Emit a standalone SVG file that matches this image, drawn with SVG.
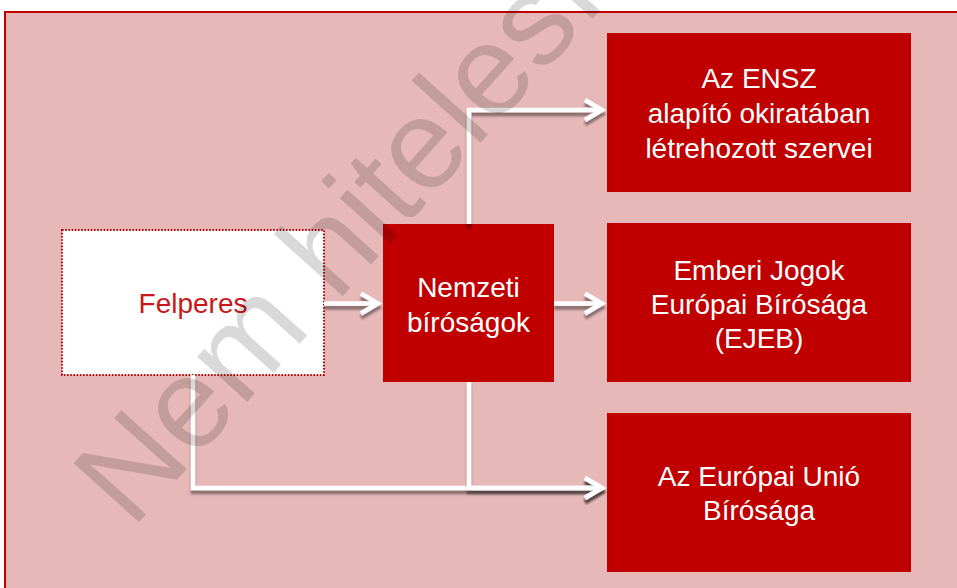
<svg xmlns="http://www.w3.org/2000/svg" width="957" height="588" viewBox="0 0 957 588">
  <defs>
    <style>
      .box { fill: #c00000; }
      .wt { font-family: "Liberation Sans", Arial, sans-serif; font-size: 28px; fill: #ffffff; text-anchor: middle; }
      .rt { font-family: "Liberation Sans", Arial, sans-serif; font-size: 28px; fill: #c81818; text-anchor: middle; }
      .con { fill: none; stroke: #ffffff; stroke-width: 4.5; marker-end: url(#arr); filter: url(#sh); }
      .wm { font-family: "Liberation Sans", Arial, sans-serif; font-size: 128px; fill: #000000; fill-opacity: 0.15; }
    </style>
    <marker id="arr" markerUnits="userSpaceOnUse" orient="auto" overflow="visible" markerWidth="1" markerHeight="1" refX="0" refY="0">
      <path d="M-17,-10 L0,0 L-17,10" fill="none" stroke="#ffffff" stroke-width="4.5"/>
    </marker>
    <filter id="sh" filterUnits="userSpaceOnUse" x="0" y="0" width="957" height="588">
      <feDropShadow dx="0" dy="4" stdDeviation="0.9" flood-color="#000000" flood-opacity="0.4"/>
    </filter>
  </defs>
  <rect x="0" y="0" width="957" height="588" fill="#ffffff"/>
  <rect id="frame" x="5" y="12" width="970" height="600" fill="#e6b8b8" stroke="#c00000" stroke-width="2"/>

  <g id="felperes">
    <rect x="62" y="230" width="262" height="145" fill="#ffffff" stroke="#c00000" stroke-width="2" stroke-dasharray="1.6 1.6"/>
    <text class="rt" x="193" y="313">Felperes</text>
  </g>
  <g id="nemzeti">
    <rect class="box" x="383" y="224" width="171" height="158"/>
    <text class="wt" x="468.5" y="297">Nemzeti</text>
    <text class="wt" x="468.5" y="332">bíróságok</text>
  </g>
  <g id="ensz">
    <rect class="box" x="607" y="33" width="304" height="159"/>
    <text class="wt" x="759" y="88">Az ENSZ</text>
    <text class="wt" x="759" y="123">alapító okiratában</text>
    <text class="wt" x="759" y="158">létrehozott szervei</text>
  </g>
  <g id="ejeb">
    <rect class="box" x="607" y="223" width="304" height="159"/>
    <text class="wt" x="759" y="280">Emberi Jogok</text>
    <text class="wt" x="759" y="314">Európai Bírósága</text>
    <text class="wt" x="759" y="348">(EJEB)</text>
  </g>
  <g id="eu">
    <rect class="box" x="607" y="413" width="304" height="159"/>
    <text class="wt" x="759" y="486">Az Európai Unió</text>
    <text class="wt" x="759" y="520">Bírósága</text>
  </g>

  <g id="connectors">
    <path class="con" d="M324,303.5 H378"/>
    <path class="con" d="M554,303.5 H602"/>
    <path class="con" d="M469,224 V110 H602"/>
    <path class="con" d="M193,375 V488 H602"/>
    <path class="con" d="M469,382 V488 H602"/>
  </g>

  <text class="wm" transform="translate(132,530) rotate(-48)">Nem hitelesített</text>
</svg>
